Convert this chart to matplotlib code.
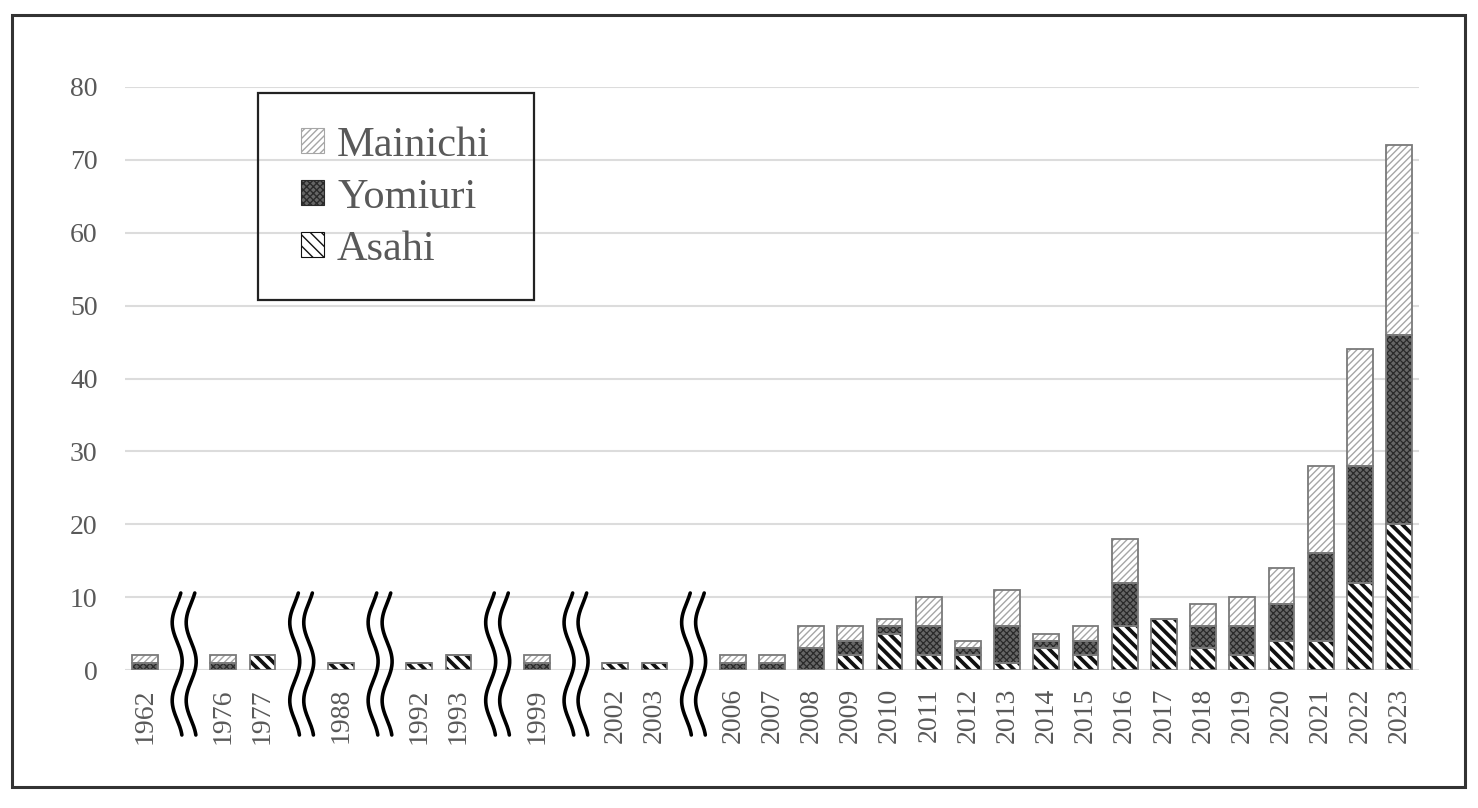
import numpy as np
import matplotlib
matplotlib.use("Agg")
import matplotlib.pyplot as plt
from matplotlib.patches import Rectangle, Patch
from matplotlib.transforms import blended_transform_factory

# ---------------- data ----------------
years = ['1962', '1976', '1977', '1988', '1992', '1993', '1999', '2002', '2003',
         '2006', '2007', '2008', '2009', '2010', '2011', '2012', '2013', '2014',
         '2015', '2016', '2017', '2018', '2019', '2020', '2021', '2022', '2023']
asahi = [0, 0, 2, 1, 1, 2, 0, 1, 1,
         0, 0, 0, 2, 5, 2, 2, 1, 3,
         2, 6, 7, 3, 2, 4, 4, 12, 20]
yomiuri = [1, 1, 0, 0, 0, 0, 1, 0, 0,
           1, 1, 3, 2, 1, 4, 1, 5, 1,
           2, 6, 0, 3, 4, 5, 12, 16, 26]
mainichi = [1, 1, 0, 0, 0, 0, 1, 0, 0,
            1, 1, 3, 2, 1, 4, 1, 5, 1,
            2, 6, 0, 3, 4, 5, 12, 16, 26]
# axis breaks are drawn after these years
breaks_after = ['1962', '1977', '1988', '1993', '1999', '2003']
yticks = [0, 10, 20, 30, 40, 50, 60, 70, 80]

# ---------------- layout ----------------
W, H = 1478, 808
fig = plt.figure(figsize=(W / 100, H / 100), dpi=100)
ax = fig.add_axes([125.4 / W, 1 - 670 / H, (1418.6 - 125.4) / W, (670 - 87) / H])

# positions: each break consumes one slot
pos = []
break_pos = []
p = 0
for y in years:
    pos.append(p)
    p += 1
    if y in breaks_after:
        break_pos.append(p)
        p += 1
pos = np.array(pos, dtype=float)
nslots = p

serif = ['Liberation Serif', 'DejaVu Serif']
txt_color = '#595959'

asahi = np.array(asahi)
yomiuri = np.array(yomiuri)
mainichi = np.array(mainichi)

bw = 0.66
styles = [
    # (name, values, bottom, facecolor, hatchcolor, hatch, hatch lw)
    ('Asahi', asahi, np.zeros_like(asahi), 'white', '#111111', '\\\\\\', 2.7),
    ('Yomiuri', yomiuri, asahi, '#666666', '#2a2a2a', 'xxxxx', 0.9),
    ('Mainichi', mainichi, asahi + yomiuri, 'white', '#a6a6a6', '/////', 1.0),
]
legend_handles = {}
for name, vals, bottom, fc, hc, hatch, hlw in styles:
    plt.rcParams['hatch.linewidth'] = hlw
    bars = ax.bar(pos, vals, bw, bottom=bottom, color=fc, edgecolor=hc,
                  hatch=hatch, linewidth=0, zorder=3)
    for b in bars:
        try:
            b.set_hatch_linewidth(hlw)
        except Exception:
            pass
    ax.bar(pos, vals, bw, bottom=bottom, fill=False, edgecolor='#7a7a7a',
           linewidth=1.3, zorder=4)
    h = Patch(facecolor=fc, edgecolor=hc, hatch=hatch, linewidth=0.8)
    try:
        h.set_hatch_linewidth(hlw)
    except Exception:
        pass
    legend_handles[name] = h

ax.set_xlim(-0.5, nslots - 0.5)
ax.set_ylim(0, 80)
ax.set_yticks(yticks)
ax.set_yticklabels([str(t) for t in yticks])
ax.set_xticks(pos)
ax.set_xticklabels(years, rotation=90)
ax.tick_params(axis='both', length=0, labelcolor=txt_color, labelsize=20)
ax.tick_params(axis='y', pad=20)
ax.tick_params(axis='x', pad=13)
for lab in ax.get_xticklabels() + ax.get_yticklabels():
    lab.set_family(serif)
ax.grid(axis='y', color='#dcdcdc', linewidth=1.5, zorder=0)
ax.set_axisbelow(True)
for s in ax.spines.values():
    s.set_visible(False)

# ---------------- break symbols ----------------
trans = blended_transform_factory(ax.transData, fig.transFigure)
ypix = np.linspace(593, 735, 200)
off = -5 * np.sin(2 * np.pi * (ypix - 603) / 78) / 39.2
for bp in break_pos:
    for dx in (-7 / 39.2, 7 / 39.2):
        ax.plot(bp + dx + off, 1 - ypix / H, transform=trans, color='black',
                linewidth=2.6, clip_on=False, zorder=6, solid_capstyle='round')

# ---------------- legend ----------------
fig.patches.append(Rectangle((258 / W, 1 - 300 / H), (534 - 258) / W, (300 - 93) / H,
                             transform=fig.transFigure, fill=False,
                             edgecolor='#222222', linewidth=1.6, zorder=10))
order = ['Mainichi', 'Yomiuri', 'Asahi']
leg = fig.legend([legend_handles[n] for n in order], order,
                 loc='upper left', bbox_to_anchor=(301 / W, 1 - 126 / H),
                 frameon=False, prop={'family': serif, 'size': 30.5},
                 handlelength=0.55, handleheight=0.55, handletextpad=0.3,
                 labelspacing=0.32, borderpad=0, borderaxespad=0)
for t in leg.get_texts():
    t.set_color(txt_color)

# ---------------- outer border ----------------
fig.patches.append(Rectangle((12 / W, 1 - 787 / H), (1465 - 12) / W, (787 - 15) / H,
                             transform=fig.transFigure, fill=False,
                             edgecolor='#333333', linewidth=2.2, zorder=10))

fig.savefig('out.png', dpi=100)
